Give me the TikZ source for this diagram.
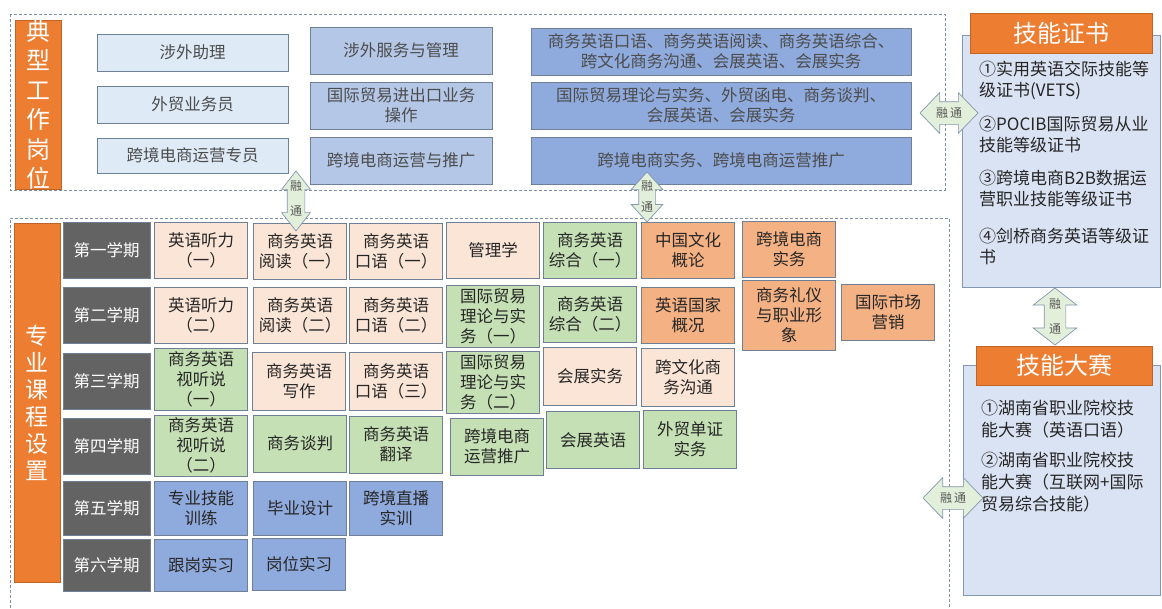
\documentclass[tikz,border=0pt]{standalone}
\usepackage{fontspec}
\newfontfamily\cjk{Noto Sans CJK SC}
\usetikzlibrary{positioning, shapes.arrows}

\definecolor{peach}{HTML}{FBE5D6}
\definecolor{leaf}{HTML}{C5E0B4}
\definecolor{tang}{HTML}{F4B183}
\definecolor{sky}{HTML}{8FAADC}
\definecolor{pale}{HTML}{DEEBF7}
\definecolor{mid}{HTML}{B4C7E7}
\definecolor{semgray}{HTML}{636363}
\definecolor{boxline}{HTML}{6F7F95}
\definecolor{certfill}{HTML}{DAE3F3}
\definecolor{certline}{HTML}{8497B0}
\definecolor{hot}{HTML}{ED7D31}
\definecolor{arrfill}{HTML}{E2EFDA}
\definecolor{dashc}{HTML}{7F8FA6}

\begin{document}
\begin{tikzpicture}[x=1pt,y=-1pt,
   course/.style={draw=boxline,line width=0.7pt,minimum width=93,minimum height=56,inner sep=0pt,align=center,
                  font=\cjk\fontsize{16.5}{20}\selectfont,text=black!85},
   sem/.style={course,fill=semgray,draw=boxline,minimum width=87,text=white},
   job/.style={course,text=black!70},
   vlabel/.style={draw=hot!80!black,fill=hot,line width=0.7pt,minimum width=46,inner sep=0pt,align=center,text=white},
   head/.style={fill=hot,draw=hot!80!black,line width=0.7pt,inner sep=0pt,text=white,font=\cjk\fontsize{24}{28}\selectfont},
   cert/.style={fill=certfill,draw=certline,line width=0.8pt},
   item/.style={inner sep=0pt,align=left,text=black!85,font=\cjk\fontsize{17}{21}\selectfont},
   fuse/.style={double arrow,draw=certline,fill=arrfill,line width=0.7pt,inner xsep=0pt},
   fusetext/.style={inner sep=0pt,text=black!65,font=\cjk\fontsize{12}{13}\selectfont},
   frame/.style={draw=dashc,line width=0.8pt,dash pattern=on 3pt off 2pt}]

   \useasboundingbox[fill=white] (0,0) rectangle (1162,608);

   % Frames
      \draw[frame] (10,14) rectangle (945,190);
      \draw[frame] (10,608) -- (10,218) -- (949,218) -- (949,608);

   % Job posts
      \node[vlabel,minimum height=168,font=\cjk\fontsize{24}{29.5}\selectfont] (dxgw) at (38,105) {典\\型\\工\\作\\岗\\位};
      \node[job,fill=pale,minimum width=191,minimum height=37] (gw1) at (192.5,52.5)  {涉外助理};
      \node[job,fill=pale,minimum width=191,minimum height=37] (gw2) at (192.5,104.5) {外贸业务员};
      \node[job,fill=pale,minimum width=191,minimum height=35] (gw3) at (192.5,155.5) {跨境电商运营专员};
      \node[job,fill=mid,minimum width=182,minimum height=47]  (nl1) at (401,50.5)    {涉外服务与管理};
      \node[job,fill=mid,minimum width=182,minimum height=47]  (nl2) at (401,105.5)   {国际贸易进出口业务\\操作};
      \node[job,fill=mid,minimum width=182,minimum height=47]  (nl3) at (401,160.5)   {跨境电商运营与推广};
      \node[job,fill=sky,minimum width=380,minimum height=47]  (kc1) at (721,51.5)    {商务英语口语、商务英语阅读、商务英语综合、\\跨文化商务沟通、会展英语、会展实务};
      \node[job,fill=sky,minimum width=380,minimum height=47]  (kc2) at (721,105.5)   {国际贸易理论与实务、外贸函电、商务谈判、\\会展英语、会展实务};
      \node[job,fill=sky,minimum width=380,minimum height=47]  (kc3) at (721,160.5)   {跨境电商实务、跨境电商运营推广};

   % Courses
      \node[vlabel,minimum height=359,font=\cjk\fontsize{23}{27}\selectfont] (zykc) at (37,402.5) {专\\业\\课\\程\\设\\置};
      \node[sem] (t1) at (106.5,250) {第一学期};
      \node[sem] (t2) at (106.5,315.5) {第二学期};
      \node[sem] (t3) at (106.5,381.5) {第三学期};
      \node[sem] (t4) at (106.5,446) {第四学期};
      \node[sem,minimum height=54] (t5) at (106.5,508) {第五学期};
      \node[sem,minimum height=52] (t6) at (106.5,565) {第六学期};

      \node[course,fill=peach] (c11) at (201,250) {英语听力\\（一）};
      \node[course,fill=peach] (c12) at (300,251) {商务英语\\阅读（一）};
      \node[course,fill=peach] (c13) at (396,251) {商务英语\\口语（一）};
      \node[course,fill=peach] (c14) at (493,250) {管理学};
      \node[course,fill=leaf]  (c15) at (590,250) {商务英语\\综合（一）};
      \node[course,fill=tang]  (c16) at (688,250) {中国文化\\概论};
      \node[course,fill=tang]  (c17) at (789,249) {跨境电商\\实务};

      \node[course,fill=peach] (c21) at (201,315.5) {英语听力\\（二）};
      \node[course,fill=peach] (c22) at (300,315.5) {商务英语\\阅读（二）};
      \node[course,fill=peach] (c23) at (396,315.5) {商务英语\\口语（二）};
      \node[course,fill=leaf,minimum height=62] (c24) at (493,316) {国际贸易\\理论与实\\务（一）};
      \node[course,fill=leaf]  (c25) at (590,314) {商务英语\\综合（二）};
      \node[course,fill=tang]  (c26) at (688,315.5) {英语国家\\概况};
      \node[course,fill=tang,minimum height=70] (c27) at (789,315) {商务礼仪\\与职业形\\象};
      \node[course,fill=tang]  (c28) at (888,312) {国际市场\\营销};

      \node[course,fill=leaf,minimum height=62] (c31) at (201,379) {商务英语\\视听说\\（一）};
      \node[course,fill=peach,minimum height=58] (c32) at (299,381) {商务英语\\写作};
      \node[course,fill=peach,minimum height=58] (c33) at (396,381) {商务英语\\口语（三）};
      \node[course,fill=leaf,minimum height=62]  (c34) at (493,382.5) {国际贸易\\理论与实\\务（二）};
      \node[course,fill=peach,minimum height=58] (c35) at (590,376) {会展实务};
      \node[course,fill=peach,minimum height=58] (c36) at (688,377) {跨文化商\\务沟通};

      \node[course,fill=leaf,minimum height=61] (c41) at (201,445.5) {商务英语\\视听说\\（二）};
      \node[course,fill=leaf,minimum height=57] (c42) at (300,443.5) {商务谈判};
      \node[course,fill=leaf,minimum height=57] (c43) at (396,444.5) {商务英语\\翻译};
      \node[course,fill=leaf,minimum height=57] (c44) at (497,446.5) {跨境电商\\运营推广};
      \node[course,fill=leaf,minimum height=57] (c45) at (593,440) {会展英语};
      \node[course,fill=leaf,minimum height=58] (c46) at (690,439) {外贸单证\\实务};

      \node[course,fill=sky,minimum height=54] (c51) at (201,508) {专业技能\\训练};
      \node[course,fill=sky,minimum height=54] (c52) at (300,508) {毕业设计};
      \node[course,fill=sky,minimum height=54] (c53) at (396,508) {跨境直播\\实训};
      \node[course,fill=sky,minimum height=52] (c61) at (201,565) {跟岗实习};
      \node[course,fill=sky,minimum height=52] (c62) at (299,564) {岗位实习};

   % Certificates and contests
      \draw[cert] (962,35) rectangle (1160,287);
      \node[head,minimum width=182,minimum height=40] (jnzs) at (1061,33) {技能证书};
      \node[item,anchor=north west] (zs) at (979,61)
         {①实用英语交际技能等\\级证书(VETS)\\[13pt]②POCIB国际贸易从业\\技能等级证书\\[12pt]③跨境电商B2B数据运\\营职业技能等级证书\\[16pt]④剑桥商务英语等级证\\书};

      \draw[cert] (963,365) rectangle (1160,595);
      \node[head,minimum width=176,minimum height=39] (jnds) at (1064,365.5) {技能大赛};
      \node[item,anchor=north west,font=\cjk\fontsize{17}{22}\selectfont] (ds) at (981,400)
         {①湖南省职业院校技\\能大赛（英语口语）\\[8pt]②湖南省职业院校技\\能大赛（互联网+国际\\贸易综合技能）};

   % Fusion arrows
      \node[fuse,rotate=90,minimum height=60,inner ysep=8.5pt,double arrow head extend=5.5pt,double arrow tip angle=76] (fa) at (296,201) {};
      \node[fusetext] at (296,186) {融};
      \node[fusetext] at (296,211) {通};
      \node[fuse,rotate=90,minimum height=50,inner ysep=8pt,double arrow head extend=7.5pt,double arrow tip angle=84] (fb) at (647,197) {};
      \node[fusetext] at (647,186) {融};
      \node[fusetext] at (647,207) {通};
      \node[fuse,rotate=90,minimum height=57,inner ysep=10.5pt,double arrow head extend=11pt,double arrow tip angle=104] (fc) at (1055,316.5) {};
      \node[fusetext] at (1055,304) {融};
      \node[fusetext] at (1055,329) {通};
      \node[fuse,minimum height=58,inner ysep=11pt,double arrow head extend=9pt,double arrow tip angle=92] (fd) at (949,113) {};
      \node[fusetext] at (949,113) {融\,通};
      \node[fuse,minimum height=60,inner ysep=11pt,double arrow head extend=9pt,double arrow tip angle=92] (fe) at (953,498) {};
      \node[fusetext] at (953,498) {融\,通};
\end{tikzpicture}
\end{document}
